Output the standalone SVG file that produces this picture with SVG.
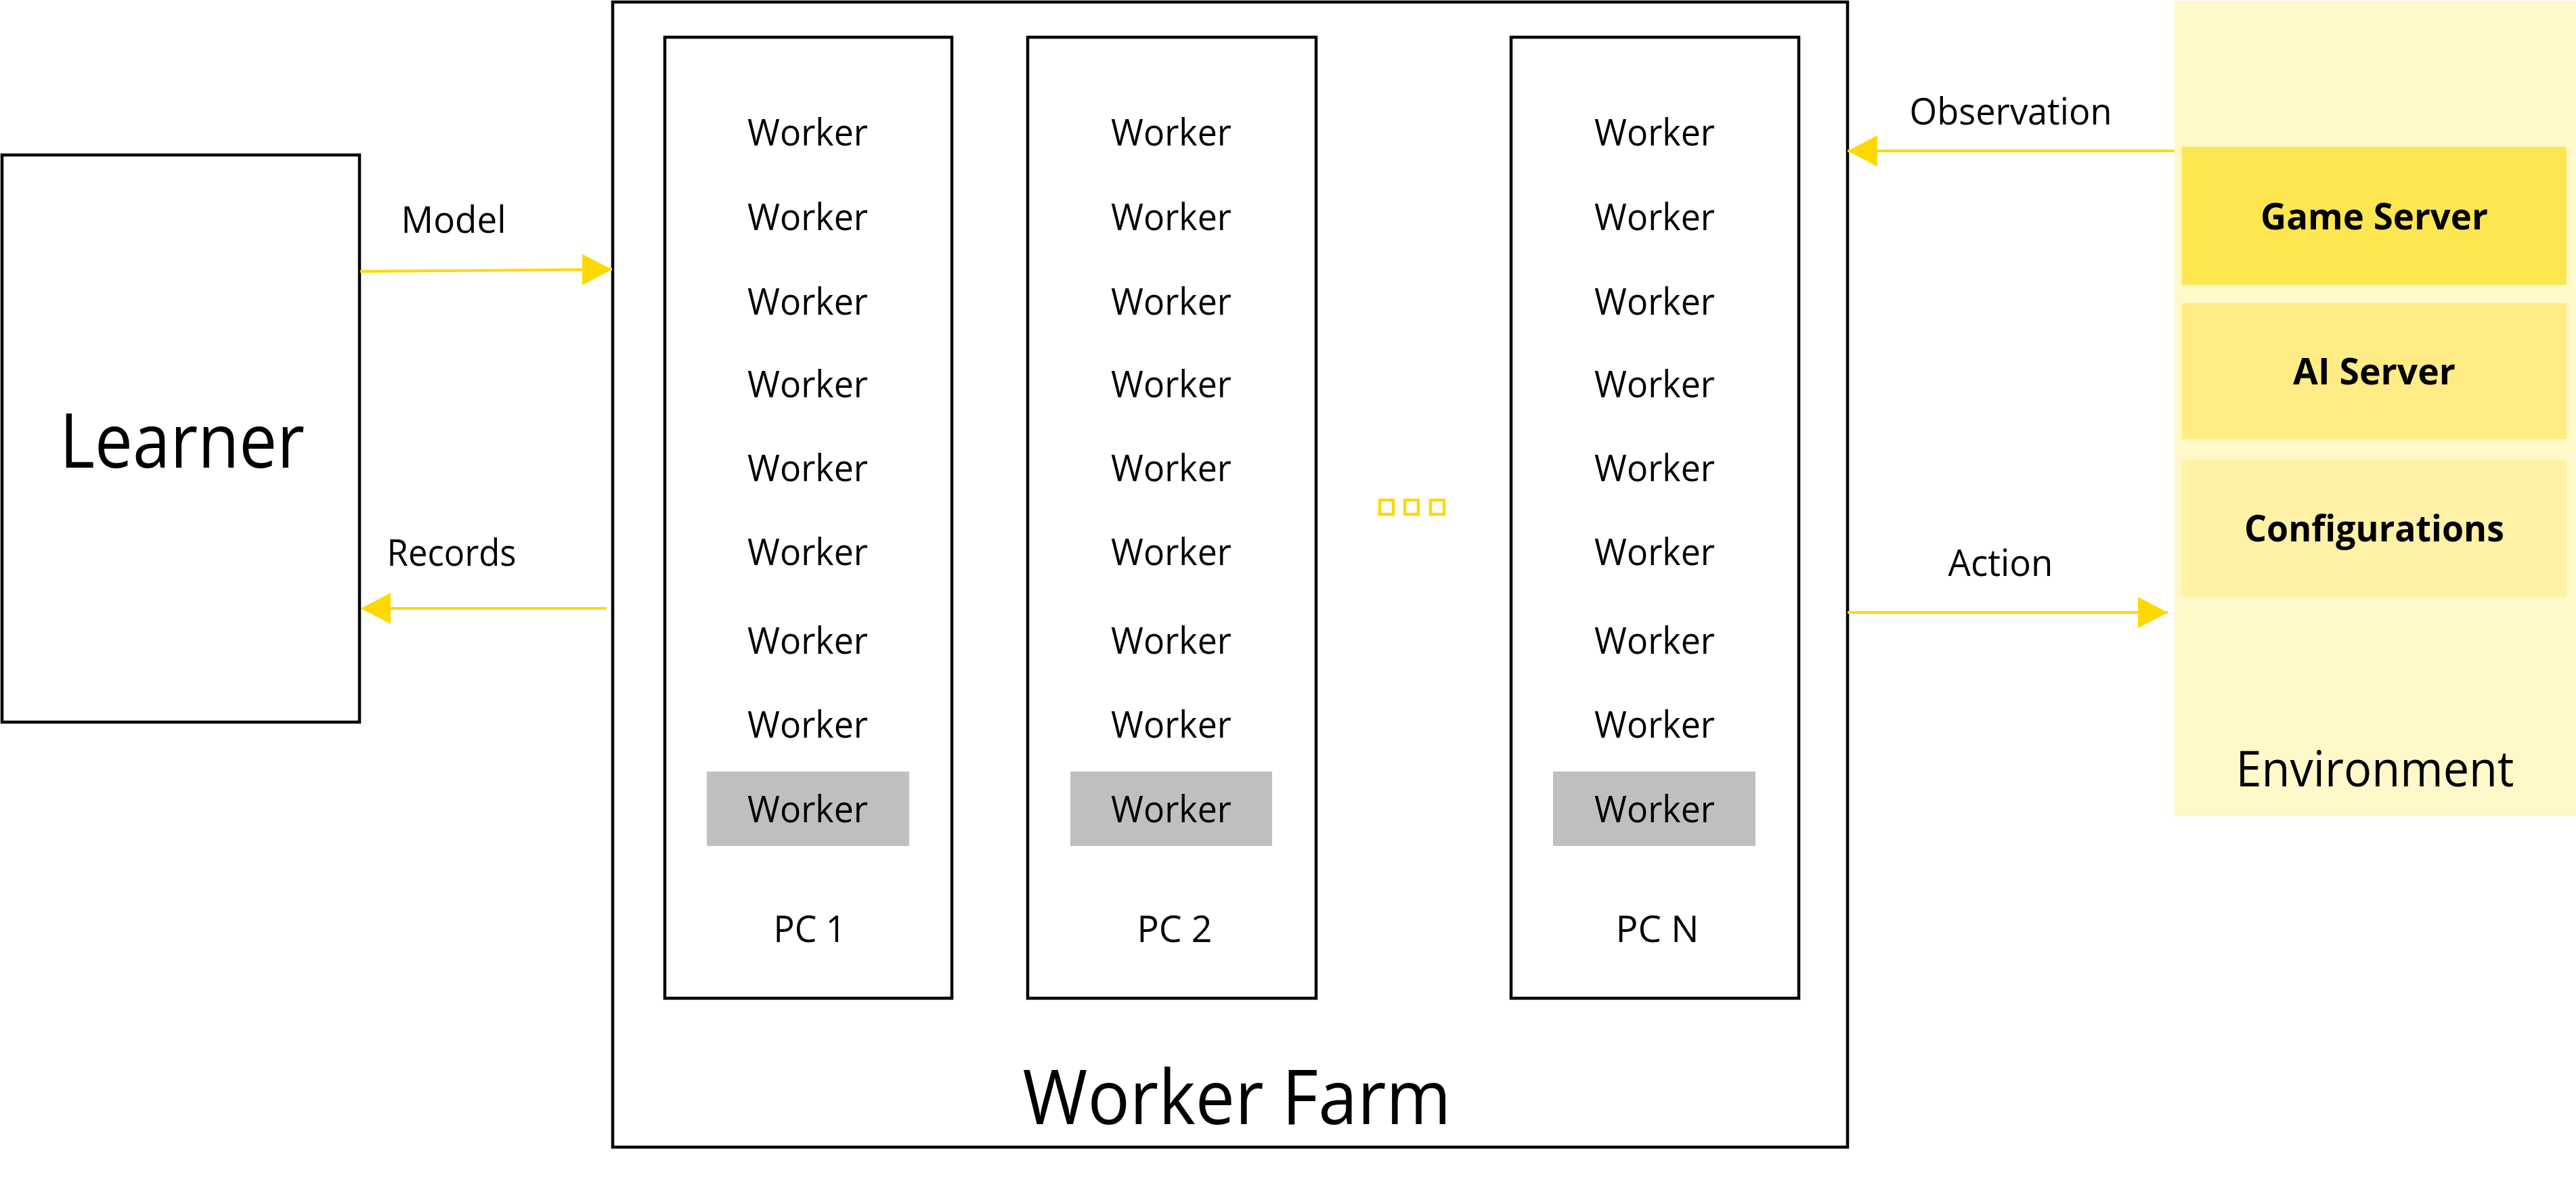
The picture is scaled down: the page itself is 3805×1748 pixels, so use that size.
<svg xmlns="http://www.w3.org/2000/svg" width="3805" height="1748" viewBox="0 0 3805 1748">
<style>
  .box { fill: #ffffff; stroke: #000000; stroke-width: 4.5; }
  .t { font-family: "Open Sans", "Noto Sans", "Liberation Sans", sans-serif; fill: #000000; text-anchor: middle; }
  .w { font-size: 54px; }
  .lbl { font-size: 54px; }
  .big { font-size: 112px; }
  .env { font-size: 74px; }
  .bold { font-size: 54px; font-weight: bold; }
  .gray { fill: #bfbfbf; }
  .conn { stroke: #ffd800; stroke-width: 4; fill: none; }
  .dots { fill: none; stroke: #ffd800; stroke-width: 4.5; }
</style>
<defs>
  <marker id="ah" markerUnits="userSpaceOnUse" markerWidth="44" markerHeight="46" refX="44" refY="23" orient="auto" viewBox="0 0 44 46">
    <path d="M0,0 L44,23 L0,46 Z" fill="#ffd800"/>
  </marker>
</defs>

<g id="environment">
  <rect x="3212" y="2" width="593" height="1204" fill="#fff8c8"/>
  <text class="t env" x="3508" y="1162" textLength="411" lengthAdjust="spacingAndGlyphs">Environment</text>
</g>
<g id="game-server">
  <rect x="3223" y="217" width="568" height="204" fill="#fee651"/>
  <text class="t bold" x="3507" y="339" textLength="336" lengthAdjust="spacingAndGlyphs">Game Server</text>
</g>
<g id="ai-server">
  <rect x="3223" y="448" width="568" height="201" fill="#ffec84"/>
  <text class="t bold" x="3507" y="568" textLength="240" lengthAdjust="spacingAndGlyphs">AI Server</text>
</g>
<g id="configurations">
  <rect x="3223" y="679" width="568" height="204" fill="#fff2a6"/>
  <text class="t bold" x="3507" y="800" textLength="384" lengthAdjust="spacingAndGlyphs">Configurations</text>
</g>

<g id="learner">
  <rect class="box" x="3" y="229" width="528" height="838"/>
  <text class="t big" x="269" y="691" textLength="362" lengthAdjust="spacingAndGlyphs">Learner</text>
</g>

<g id="worker-farm">
  <rect class="box" x="905" y="3" width="1824" height="1692"/>
  <text class="t big" x="1827" y="1661" textLength="633" lengthAdjust="spacingAndGlyphs">Worker Farm</text>
  <rect class="dots" x="2038" y="739" width="20" height="21"/>
  <rect class="dots" x="2075" y="739" width="20" height="21"/>
  <rect class="dots" x="2113" y="739" width="20" height="21"/>
</g>

<g id="pc1">
  <rect class="box" x="982" y="55" width="424" height="1420"/>
  <rect class="gray" x="1044" y="1140" width="299" height="110"/>
  <g class="t w">
    <text x="1193" y="215" textLength="178" lengthAdjust="spacingAndGlyphs">Worker</text>
    <text x="1193" y="340" textLength="178" lengthAdjust="spacingAndGlyphs">Worker</text>
    <text x="1193" y="465" textLength="178" lengthAdjust="spacingAndGlyphs">Worker</text>
    <text x="1193" y="587" textLength="178" lengthAdjust="spacingAndGlyphs">Worker</text>
    <text x="1193" y="711" textLength="178" lengthAdjust="spacingAndGlyphs">Worker</text>
    <text x="1193" y="835" textLength="178" lengthAdjust="spacingAndGlyphs">Worker</text>
    <text x="1193" y="966" textLength="178" lengthAdjust="spacingAndGlyphs">Worker</text>
    <text x="1193" y="1090" textLength="178" lengthAdjust="spacingAndGlyphs">Worker</text>
    <text x="1193" y="1215" textLength="178" lengthAdjust="spacingAndGlyphs">Worker</text>
    <text x="1196" y="1392" textLength="107" lengthAdjust="spacingAndGlyphs">PC 1</text>
  </g>
</g>

<g id="pc2">
  <rect class="box" x="1518" y="55" width="426" height="1420"/>
  <rect class="gray" x="1581" y="1140" width="298" height="110"/>
  <g class="t w">
    <text x="1730" y="215" textLength="178" lengthAdjust="spacingAndGlyphs">Worker</text>
    <text x="1730" y="340" textLength="178" lengthAdjust="spacingAndGlyphs">Worker</text>
    <text x="1730" y="465" textLength="178" lengthAdjust="spacingAndGlyphs">Worker</text>
    <text x="1730" y="587" textLength="178" lengthAdjust="spacingAndGlyphs">Worker</text>
    <text x="1730" y="711" textLength="178" lengthAdjust="spacingAndGlyphs">Worker</text>
    <text x="1730" y="835" textLength="178" lengthAdjust="spacingAndGlyphs">Worker</text>
    <text x="1730" y="966" textLength="178" lengthAdjust="spacingAndGlyphs">Worker</text>
    <text x="1730" y="1090" textLength="178" lengthAdjust="spacingAndGlyphs">Worker</text>
    <text x="1730" y="1215" textLength="178" lengthAdjust="spacingAndGlyphs">Worker</text>
    <text x="1735" y="1392" textLength="111" lengthAdjust="spacingAndGlyphs">PC 2</text>
  </g>
</g>

<g id="pcn">
  <rect class="box" x="2232" y="55" width="425" height="1420"/>
  <rect class="gray" x="2294" y="1140" width="299" height="110"/>
  <g class="t w">
    <text x="2444" y="215" textLength="178" lengthAdjust="spacingAndGlyphs">Worker</text>
    <text x="2444" y="340" textLength="178" lengthAdjust="spacingAndGlyphs">Worker</text>
    <text x="2444" y="465" textLength="178" lengthAdjust="spacingAndGlyphs">Worker</text>
    <text x="2444" y="587" textLength="178" lengthAdjust="spacingAndGlyphs">Worker</text>
    <text x="2444" y="711" textLength="178" lengthAdjust="spacingAndGlyphs">Worker</text>
    <text x="2444" y="835" textLength="178" lengthAdjust="spacingAndGlyphs">Worker</text>
    <text x="2444" y="966" textLength="178" lengthAdjust="spacingAndGlyphs">Worker</text>
    <text x="2444" y="1090" textLength="178" lengthAdjust="spacingAndGlyphs">Worker</text>
    <text x="2444" y="1215" textLength="178" lengthAdjust="spacingAndGlyphs">Worker</text>
    <text x="2448" y="1392" textLength="123" lengthAdjust="spacingAndGlyphs">PC N</text>
  </g>
</g>

<g id="connectors">
  <line class="conn" x1="532" y1="401" x2="904" y2="398" marker-end="url(#ah)"/>
  <line class="conn" x1="896" y1="899" x2="533" y2="899" marker-end="url(#ah)"/>
  <line class="conn" x1="3212" y1="223" x2="2729" y2="223" marker-end="url(#ah)"/>
  <line class="conn" x1="2729" y1="905" x2="3202" y2="905" marker-end="url(#ah)"/>
  <g class="t lbl">
    <text x="670" y="344" textLength="155" lengthAdjust="spacingAndGlyphs">Model</text>
    <text x="667" y="836" textLength="191" lengthAdjust="spacingAndGlyphs">Records</text>
    <text x="2970" y="184" textLength="299" lengthAdjust="spacingAndGlyphs">Observation</text>
    <text x="2955" y="851" textLength="155" lengthAdjust="spacingAndGlyphs">Action</text>
  </g>
</g>
</svg>
